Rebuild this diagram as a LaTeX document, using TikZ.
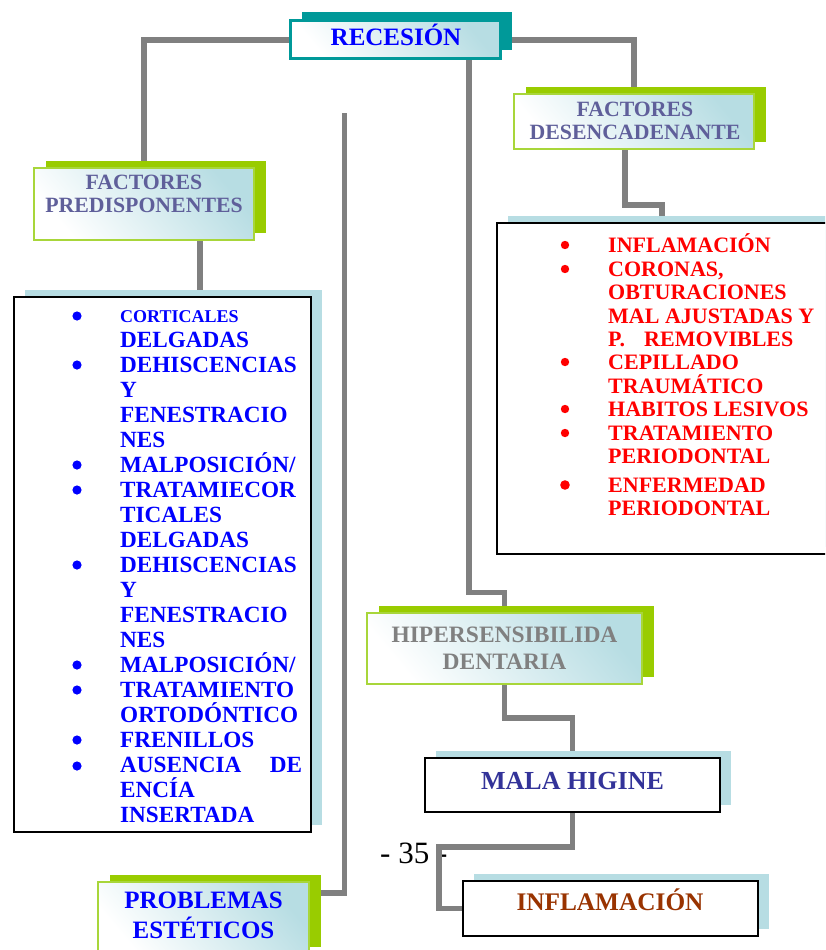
\documentclass[tikz,border=0pt]{standalone}
\usepackage{fontspec}
\setmainfont{Liberation Serif}
\usetikzlibrary{shadows}
\pgfdeclarelayer{back}
\pgfdeclarelayer{bg}
\pgfsetlayers{back,bg,main}
\definecolor{conngray}{HTML}{808080}
\definecolor{lgreen}{HTML}{99CC00}
\definecolor{lgreenedge}{HTML}{A8D63A}
\definecolor{tealc}{HTML}{009999}
\definecolor{lblue}{HTML}{B7DDE3}
\definecolor{slate}{HTML}{5F5F9A}
\definecolor{navy}{HTML}{333399}
\definecolor{brownc}{HTML}{993300}
\definecolor{pureblue}{HTML}{0000FF}
\definecolor{purered}{HTML}{FF0000}
\definecolor{midgray}{HTML}{808080}
\begin{document}
\begin{tikzpicture}[x=1pt,y=-1pt,
  conn/.style={draw=conngray, line width=5.3pt},
  gshade/.style={top color=lblue, bottom color=white, shading angle=-50},
  greenbox/.style={gshade, draw=lgreenedge, line width=2pt, inner sep=0pt,
    general shadow={fill=lgreen, shadow xshift=11.5pt, shadow yshift=7.5pt}},
  tealbox/.style={gshade, draw=tealc, line width=3pt, inner sep=0pt,
    general shadow={fill=tealc, shadow xshift=11.5pt, shadow yshift=8.5pt}},
  plainbox/.style={fill=white, draw=black, line width=2pt, inner sep=0pt,
    general shadow={fill=lblue, shadow xshift=10.5pt, shadow yshift=7.5pt}},
  lbl/.style={inner sep=0pt, align=center},
]
\useasboundingbox (0,0) rectangle (825,950);
\clip (0,0) rectangle (825,950);
\begin{pgfonlayer}{back}
\fill[white] (0,0) rectangle (825,950);
\end{pgfonlayer}

% boxes
\node[tealbox, minimum width=210pt, minimum height=38pt] (rec) at (395.5,40) {};
\node[lbl, anchor=base, text=pureblue, font=\bfseries\fontsize{25}{28}\selectfont] (rect) at (396,46) {RECESIÓN};

\node[greenbox, minimum width=220pt, minimum height=72pt] (pred) at (144,204) {};
\node[lbl, text=slate, font=\bfseries\fontsize{21.8}{22.7}\selectfont] (predt) at (144,194) {FACTORES\\PREDISPONENTES};

\node[greenbox, minimum width=240pt, minimum height=55pt] (des) at (634,121.5) {};
\node[lbl, text=slate, font=\bfseries\fontsize{21.8}{23}\selectfont] (dest) at (635,120.5) {FACTORES\\DESENCADENANTE};

\node[greenbox, minimum width=275pt, minimum height=71pt] (hip) at (504.5,648.5) {};
\node[lbl, text=midgray, font=\bfseries\fontsize{23.5}{27.3}\selectfont] (hipt) at (504.5,648.5) {HIPERSENSIBILIDA\\DENTARIA};

\node[greenbox, minimum width=211pt, minimum height=72pt] (prob) at (203.5,918) {};
\node[lbl, text=pureblue, font=\bfseries\fontsize{25}{29.5}\selectfont] (probt) at (203.5,915.5) {PROBLEMAS\\ESTÉTICOS};

\node[plainbox, minimum width=295pt, minimum height=54pt] (mala) at (572.5,785) {};
\node[lbl, anchor=base, text=navy, font=\bfseries\fontsize{26}{28}\selectfont] (malat) at (572.5,789.3) {MALA HIGINE};

\node[plainbox, minimum width=295pt, minimum height=55pt] (infl) at (610.5,908.5) {};
\node[lbl, anchor=base, text=brownc, font=\bfseries\fontsize{25.3}{28}\selectfont] (inflt) at (610,910.7) {INFLAMACIÓN};

% left list
\node[plainbox, minimum width=297pt, minimum height=535pt] (ll) at (162.5,564.5) {};
\node[anchor=north west, inner sep=0pt, text=pureblue, font=\bfseries\fontsize{23.2}{25}\selectfont] (llt) at (120,305) {%
\begin{tabular}{@{}l@{}}
{\fontsize{18}{25}\selectfont CORTICALES}\\
DELGADAS\\
DEHISCENCIAS\\
Y\\
FENESTRACIO\\
NES\\
\smash{MALPOSICIÓN/}\\
TRATAMIECOR\\
TICALES\\
DELGADAS\\
DEHISCENCIAS\\
Y\\
FENESTRACIO\\
NES\\
\smash{MALPOSICIÓN/}\\
TRATAMIENTO\\
\smash{ORTODÓNTICO}\\
FRENILLOS\\
\hbox to 182pt{AUSENCIA\hfill DE}\\
\smash{ENCÍA}\\
INSERTADA
\end{tabular}};
\foreach \yy in {316,365,465,490,565,665,690,740,766}
  \fill[pureblue] (77,\yy) circle (4.6pt);

% right list
\node[plainbox, minimum width=342pt, minimum height=331pt] (rl) at (668,388.5) {};
\node[anchor=north west, inner sep=0pt, text=purered, font=\bfseries\fontsize{22}{23.4}\selectfont] (rlt) at (608,236.3) {%
\begin{tabular}{@{}l@{}}
\smash{INFLAMACIÓN}\\
CORONAS,\\
OBTURACIONES\\
MAL AJUSTADAS Y\\
\makebox[36pt][l]{P.}REMOVIBLES\\
CEPILLADO\\
\smash{TRAUMÁTICO}\\
HABITOS LESIVOS\\
TRATAMIENTO\\
PERIODONTAL\\[5.6pt]
ENFERMEDAD\\
PERIODONTAL
\end{tabular}};
\foreach \yy in {245,269,362,409,433}
  \fill[purered] (565,\yy) circle (4.2pt);
\fill[purered] (565,485) circle (4.8pt);

\coordinate (probtop) at (344.5,113);

\begin{pgfonlayer}{bg}
\node[anchor=base west, inner sep=0pt, font=\fontsize{31}{31}\selectfont] (pg) at (380,863) {- 35 -};
\draw[conn] (rec.west) -| (pred.north);
\draw[conn] (rec.east) -| (des.north);
\draw[conn] ([xshift=73.5pt]rec.south) -- ++(0,532) -| (hip.north);
\draw[conn] ([xshift=-9pt]des.south) -- ++(0,55) -| ([xshift=-6pt]rl.north);
\draw[conn] ([xshift=56pt]pred.south) -- ([xshift=56pt]pred.south |- ll.north);
\draw[conn] (hip.south) -- ++(0,33) -| (mala.north);
\draw[conn] (mala.south) -- ++(0,34) -| ([xshift=-23pt]infl.west) -- (infl.west);
\draw[conn] (probtop) |- ([yshift=25pt]prob.east);
\end{pgfonlayer}
\end{tikzpicture}
\end{document}
